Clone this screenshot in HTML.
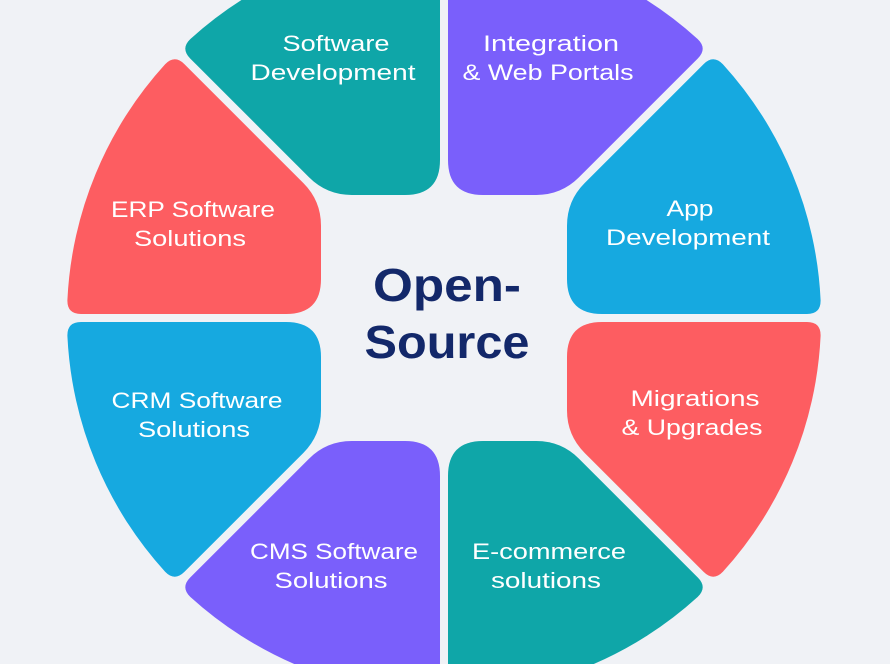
<!DOCTYPE html>
<html><head><meta charset="utf-8"><style>
html,body{margin:0;padding:0;background:#f0f2f6;}
svg{display:block;}
text{font-family:"Liberation Sans",sans-serif;}
.l{fill:#fff;font-size:22px;font-weight:500;text-anchor:middle;}
.c{fill:#13286a;font-size:46px;font-weight:700;text-anchor:middle;}
</style></head><body>
<svg id="s" width="890" height="664" viewBox="0 0 890 664" xmlns="http://www.w3.org/2000/svg">
<rect width="890" height="664" fill="#f0f2f6"/>
<g id="segs"></g>
<text class="l" x="336" y="51" textLength="107" lengthAdjust="spacingAndGlyphs">Software</text><text class="l" x="333" y="80" textLength="165" lengthAdjust="spacingAndGlyphs">Development</text>
<text class="l" x="551" y="51" textLength="136" lengthAdjust="spacingAndGlyphs">Integration</text><text class="l" x="548" y="80" textLength="171" lengthAdjust="spacingAndGlyphs">&amp; Web Portals</text>
<text class="l" x="690" y="216" textLength="47" lengthAdjust="spacingAndGlyphs">App</text><text class="l" x="688" y="245" textLength="164" lengthAdjust="spacingAndGlyphs">Development</text>
<text class="l" x="193" y="217" textLength="164" lengthAdjust="spacingAndGlyphs">ERP Software</text><text class="l" x="190" y="246" textLength="112" lengthAdjust="spacingAndGlyphs">Solutions</text>
<text class="l" x="197" y="408" textLength="171" lengthAdjust="spacingAndGlyphs">CRM Software</text><text class="l" x="194" y="437" textLength="112" lengthAdjust="spacingAndGlyphs">Solutions</text>
<text class="l" x="695" y="406" textLength="129" lengthAdjust="spacingAndGlyphs">Migrations</text><text class="l" x="692" y="435" textLength="141" lengthAdjust="spacingAndGlyphs">&amp; Upgrades</text>
<text class="l" x="334" y="559" textLength="168" lengthAdjust="spacingAndGlyphs">CMS Software</text><text class="l" x="331" y="588" textLength="113" lengthAdjust="spacingAndGlyphs">Solutions</text>
<text class="l" x="549" y="559" textLength="154" lengthAdjust="spacingAndGlyphs">E-commerce</text><text class="l" x="546" y="588" textLength="110" lengthAdjust="spacingAndGlyphs">solutions</text>
<text class="c" x="447" y="301" textLength="148" lengthAdjust="spacingAndGlyphs">Open-</text>
<text class="c" x="447" y="358" textLength="165" lengthAdjust="spacingAndGlyphs">Source</text>
</svg>
<script>
(function(){
var cx=444,cy=318,R=377,rc=123,g=4,cA=35,cD=25,co=14;
var cols=["#16a9e0","#7a5ffb","#0fa6a8","#fd5d61","#16a9e0","#7a5ffb","#0fa6a8","#fd5d61"];
var out="";
function S(p){return (cx+p[0]).toFixed(1)+","+(cy-p[1]).toFixed(1);}
function add(a,b,k){return [a[0]+k*b[0],a[1]+k*b[1]];}
function unit(a,b){var dx=b[0]-a[0],dy=b[1]-a[1],l=Math.hypot(dx,dy);return [dx/l,dy/l];}
for(var i=0;i<8;i++){
 var a1=i*Math.PI/4,a2=(i+1)*Math.PI/4;
 var even=(i%2==0),ax=even?a1:a2;
 var ca=even?cA:cD, cd=even?cD:cA;
 var u1=[Math.cos(a1),Math.sin(a1)],n1=[-Math.sin(a1),Math.cos(a1)];
 var u2=[Math.cos(a2),Math.sin(a2)],n2=[Math.sin(a2),-Math.cos(a2)];
 var m=[Math.round(Math.cos(ax)),Math.round(Math.sin(ax))];
 function inter(u,n){var t=(rc-g*(n[0]*m[0]+n[1]*m[1]))/(u[0]*m[0]+u[1]*m[1]);return [t*u[0]+g*n[0],t*u[1]+g*n[1]];}
 var to=Math.sqrt(R*R-g*g);
 var B=[to*u1[0]+g*n1[0],to*u1[1]+g*n1[1]];
 var C=[to*u2[0]+g*n2[0],to*u2[1]+g*n2[1]];
 var A=inter(u1,n1),D=inter(u2,n2);
 var angB=Math.atan2(B[1],B[0]),angC=Math.atan2(C[1],C[0]);
 if(angC<angB) angC+=2*Math.PI;
 var B1=[R*Math.cos(angB+co/R),R*Math.sin(angB+co/R)];
 var C0=[R*Math.cos(angC-co/R),R*Math.sin(angC-co/R)];
 var A1=add(A,u1,ca),B0=add(B,u1,-co),C1=add(C,u2,-co),D0=add(D,u2,cd);
 var dDA=unit(D,A),dAD=unit(A,D);
 var D1=add(D,dDA,cd),A0=add(A,dAD,ca);
 var p="M"+S(A1)+" L"+S(B0)+" Q"+S(B)+" "+S(B1)+" A"+R+" "+R+" 0 0 0 "+S(C0)+" Q"+S(C)+" "+S(C1)+" L"+S(D0)+" Q"+S(D)+" "+S(D1)+" L"+S(A0)+" Q"+S(A)+" "+S(A1)+" Z";
 out+='<path d="'+p+'" fill="'+cols[i]+'"/>';
}
document.getElementById("segs").innerHTML=out;
})();
</script>
</body></html>
